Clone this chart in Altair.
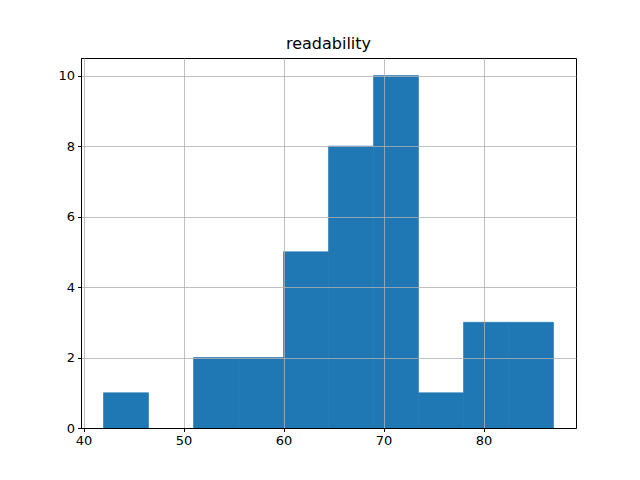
import altair as alt
import pandas as pd

bin_edges = [42.0, 46.5, 51.0, 55.5, 60.0, 64.5, 69.0, 73.5, 78.0, 82.5, 87.0]
counts = [1, 0, 2, 2, 5, 8, 10, 1, 3, 3]

df = pd.DataFrame({
    "start": bin_edges[:-1],
    "end": bin_edges[1:],
    "count": counts,
})

font = "DejaVu Sans"

x_axis = alt.Axis(values=[40, 50, 60, 70, 80], grid=True, gridColor="#b0b0b0", gridWidth=0.8,
                  domainColor="black", tickColor="black", tickSize=3.5, labelFontSize=13,
                  labelFont=font, labelColor="black", labelPadding=3, title=None, zindex=1)
y_axis = alt.Axis(values=[0, 2, 4, 6, 8, 10], grid=True, gridColor="#b0b0b0", gridWidth=0.8,
                  domainColor="black", tickColor="black", tickSize=3.5, labelFontSize=13,
                  labelFont=font, labelColor="black", labelPadding=3, title=None, zindex=1)

chart = alt.Chart(df).transform_filter("datum.count > 0").mark_rect(
    color="#1f77b4", stroke="#1f77b4", strokeWidth=0.6
).encode(
    x=alt.X("start:Q", scale=alt.Scale(domain=[39.75, 89.25], nice=False, zero=False), axis=x_axis),
    x2="end:Q",
    y=alt.Y("count:Q", scale=alt.Scale(domain=[0, 10.5], nice=False), axis=y_axis),
    y2=alt.datum(0),
).properties(
    width=495,
    height=370,
    title=alt.TitleParams("readability", font=font, fontSize=16, fontWeight="normal", color="black", offset=6),
    autosize=alt.AutoSizeParams(type="none"),
    padding={"left": 73, "top": 50, "right": 50, "bottom": 40},
).configure(
    background="white",
    view=alt.ViewConfig(stroke="black", strokeWidth=1),
)

chart.save("out.html", embed_options={"renderer": "svg", "actions": False})
